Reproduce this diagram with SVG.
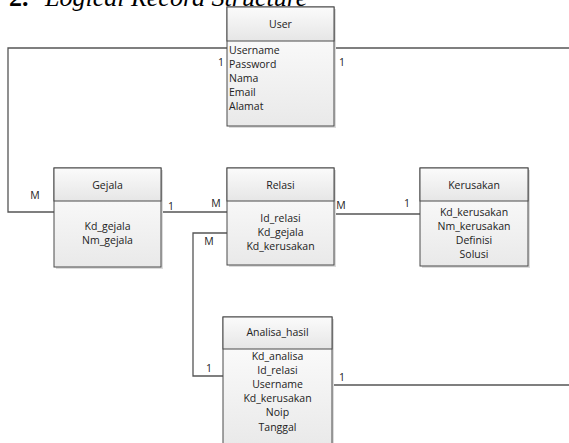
<svg xmlns="http://www.w3.org/2000/svg" width="569" height="443" viewBox="0 0 569 443">
  <style>
    .box { fill: url(#bodyFill); stroke: #4a4a4a; stroke-width: 1; }
    .head { fill: url(#headFill); stroke: #4a4a4a; stroke-width: 1; }
    .shadow { fill: #dcdcdc; }
    .t { font-family: "Open Sans", "Liberation Sans", sans-serif; font-size: 10.5px; fill: #222; }
    .c { text-anchor: middle; }
    .conn { fill: none; stroke: #555; stroke-width: 1.3; }
    .card { font-family: "Open Sans", "Liberation Sans", sans-serif; font-size: 10.5px; fill: #222; text-anchor: middle; }
    .title { font-family: "Liberation Serif", serif; font-size: 26px; fill: #000; }
  </style>
  <defs>
    <linearGradient id="bodyFill" x1="0" y1="0" x2="0" y2="1">
      <stop offset="0" stop-color="#ffffff"/>
      <stop offset="1" stop-color="#e9e9e9"/>
    </linearGradient>
    <linearGradient id="headFill" x1="0" y1="0" x2="0" y2="1">
      <stop offset="0" stop-color="#fbfbfb"/>
      <stop offset="1" stop-color="#e6e6e6"/>
    </linearGradient>
  </defs>
  <rect width="569" height="443" fill="#ffffff"/>

  <!-- heading -->
  <text class="title" x="9" y="6"><tspan font-weight="bold">2.</tspan><tspan x="45" font-style="italic">Logical Record Structure</tspan></text>

  <!-- connectors -->
  <g id="connectors">
    <polyline class="conn" points="227,48 8,48 8,212 54,212"/>
    <line class="conn" x1="334" y1="48" x2="569" y2="48"/>
    <line class="conn" x1="161" y1="212" x2="227" y2="212"/>
    <line class="conn" x1="334" y1="214" x2="420" y2="214"/>
    <polyline class="conn" points="227,233 193,233 193,376 223,376"/>
    <line class="conn" x1="332" y1="385" x2="569" y2="385"/>
    <text class="card" x="221" y="66">1</text>
    <text class="card" x="342" y="66">1</text>
    <text class="card" x="35" y="199">M</text>
    <text class="card" x="171" y="210">1</text>
    <text class="card" x="216" y="207">M</text>
    <text class="card" x="209" y="245">M</text>
    <text class="card" x="341" y="209">M</text>
    <text class="card" x="407" y="207">1</text>
    <text class="card" x="209" y="372">1</text>
    <text class="card" x="342" y="381">1</text>
  </g>

  <!-- User -->
  <g id="user">
    <rect class="shadow" x="229" y="9" width="107" height="119"/>
    <rect class="box" x="227" y="7" width="107" height="119"/>
    <rect class="head" x="227" y="7" width="107" height="34"/>
    <text class="t c" x="280.5" y="28">User</text>
    <text class="t" x="229" y="54">Username</text>
    <text class="t" x="229" y="68">Password</text>
    <text class="t" x="229" y="82">Nama</text>
    <text class="t" x="229" y="96">Email</text>
    <text class="t" x="229" y="110">Alamat</text>
  </g>

  <!-- Gejala -->
  <g id="gejala">
    <rect class="shadow" x="56" y="170" width="107" height="99"/>
    <rect class="box" x="54" y="168" width="107" height="99"/>
    <rect class="head" x="54" y="168" width="107" height="33"/>
    <text class="t c" x="107.5" y="189">Gejala</text>
    <text class="t c" x="107.5" y="230">Kd_gejala</text>
    <text class="t c" x="107.5" y="244">Nm_gejala</text>
  </g>

  <!-- Relasi -->
  <g id="relasi">
    <rect class="shadow" x="229" y="170" width="107" height="97"/>
    <rect class="box" x="227" y="168" width="107" height="97"/>
    <rect class="head" x="227" y="168" width="107" height="33"/>
    <text class="t c" x="280.5" y="189">Relasi</text>
    <text class="t c" x="280.5" y="222">Id_relasi</text>
    <text class="t c" x="280.5" y="236">Kd_gejala</text>
    <text class="t c" x="280.5" y="250">Kd_kerusakan</text>
  </g>

  <!-- Kerusakan -->
  <g id="kerusakan">
    <rect class="shadow" x="422" y="170" width="108" height="98"/>
    <rect class="box" x="420" y="168" width="108" height="98"/>
    <rect class="head" x="420" y="168" width="108" height="33"/>
    <text class="t c" x="474" y="189">Kerusakan</text>
    <text class="t c" x="474" y="216">Kd_kerusakan</text>
    <text class="t c" x="474" y="230">Nm_kerusakan</text>
    <text class="t c" x="474" y="244">Definisi</text>
    <text class="t c" x="474" y="258">Solusi</text>
  </g>

  <!-- Analisa_hasil -->
  <g id="analisa_hasil">
    <rect class="shadow" x="225" y="319" width="109" height="130"/>
    <rect class="box" x="223" y="317" width="109" height="130"/>
    <rect class="head" x="223" y="317" width="109" height="32"/>
    <text class="t c" x="277.5" y="336">Analisa_hasil</text>
    <text class="t c" x="277.5" y="360">Kd_analisa</text>
    <text class="t c" x="277.5" y="374">Id_relasi</text>
    <text class="t c" x="277.5" y="388">Username</text>
    <text class="t c" x="277.5" y="402">Kd_kerusakan</text>
    <text class="t c" x="277.5" y="416">Noip</text>
    <text class="t c" x="277.5" y="431">Tanggal</text>
  </g>
</svg>
